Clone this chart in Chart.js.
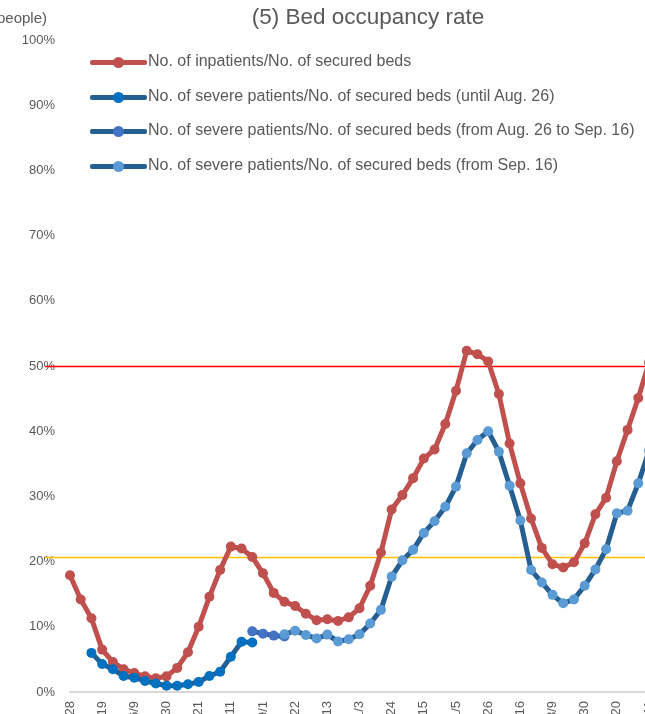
<!DOCTYPE html>
<html lang="en">
<head>
    <meta charset="UTF-8">
    <title>(5) Bed occupancy rate</title>
    <script src="https://cdn.jsdelivr.net/npm/chart.js"></script>
    <style>
        body { margin: 0; background: #fff; font-family: "Liberation Sans", Arial, sans-serif; }
        #wrap { position: relative; width: 645px; height: 714px; overflow: hidden; }
        #bedChart { position: absolute; left: 0; top: 0; }
        .title { position: absolute; top: 4px; left: 0; width: 736px; text-align: center; font-size: 22.5px; color: #595959; }
        .unit { position: absolute; top: 9px; right: 598px; font-size: 15px; color: #595959; white-space: nowrap; }
        .legend { position: absolute; left: 90px; top: 51px; font-size: 16px; color: #595959; }
        .legend .row { position: relative; height: 34.5px; line-height: 20px; white-space: nowrap; }
        .legend .sw { position: absolute; left: 0; top: 9px; width: 57px; height: 5px; border-radius: 2px; }
        .legend .dot { position: absolute; left: 23px; top: -3px; width: 11px; height: 11px; border-radius: 50%; }
        .legend .txt { position: absolute; left: 58px; top: 0; }
    </style>
</head>
<body>
<div id="wrap">
    <canvas id="bedChart" width="700" height="760"></canvas>
    <div class="unit">(people)</div>
    <div class="title">(5) Bed occupancy rate</div>
    <div class="legend" id="legend"></div>
</div>
<script>
    // weekly dates (2020/4/28 - 2021/5/11)
    const dates = [
        '4/28', '5/5', '5/12', '5/19', '5/26', '6/2', '6/9', '6/16', '6/23', '6/30',
        '7/7', '7/14', '7/21', '7/28', '8/4', '8/11', '8/18', '8/25', '9/1', '9/8',
        '9/15', '9/22', '9/29', '10/6', '10/13', '10/20', '10/27', '11/3', '11/10', '11/17',
        '11/24', '12/1', '12/8', '12/15', '12/22', '12/29', '1/5', '1/12', '1/19', '1/26',
        '2/2', '2/9', '2/16', '2/23', '3/2', '3/9', '3/16', '3/23', '3/30', '4/6',
        '4/13', '4/20', '4/27', '5/4', '5/11'
    ];

    // inpatients / secured beds (%)
    const inpatientRate = [
        17.9, 14.2, 11.3, 6.5, 4.6, 3.5, 2.9, 2.4, 2.1, 2.4,
        3.7, 6.1, 10.0, 14.6, 18.7, 22.3, 22.0, 20.7, 18.2, 15.2,
        13.85, 13.2, 12.0, 11.0, 11.15, 10.9, 11.45, 12.85, 16.3, 21.4,
        28.0, 30.2, 32.8, 35.8, 37.2, 41.1, 46.2, 52.35, 51.8, 50.7,
        45.7, 38.1, 32.0, 26.6, 22.1, 19.6, 19.1, 19.9, 22.8, 27.25,
        29.8, 35.4, 40.2, 45.1, 50.5
    ];

    // severe patients / secured beds (%), three definitions
    const severeUntilStart = 2;
    const severeUntil = [6.0, 4.3, 3.5, 2.45, 2.2, 1.7, 1.3, 0.97, 0.97, 1.2, 1.55, 2.45, 3.1, 5.4, 7.7, 7.6];
    const severeMidStart = 17;
    const severeMid = [9.3, 8.95, 8.65, 8.5];
    const severeFromStart = 20;
    const severeFrom = [
        8.85, 9.4, 8.75, 8.2, 8.8, 7.75, 8.1, 8.85, 10.5, 12.6,
        17.7, 20.2, 21.8, 24.4, 26.2, 28.4, 31.5, 36.6, 38.65, 40.0,
        36.85, 31.65, 26.3, 18.7, 16.8, 14.9, 13.6, 14.2, 16.3, 18.8,
        21.9, 27.4, 27.8, 32.0, 37.0
    ];

    const yTicks = [0, 10, 20, 30, 40, 50, 60, 70, 80, 90, 100];
    const refLevels = [50, 20.7];
    const refColors = ['#FF0000', '#FFC000'];

    function place(start, vals) {
        return dates.map((d, i) => (i >= start && i < start + vals.length) ? vals[i - start] : null);
    }

    const lineBlue = '#255E91';
    const series = [
        { label: 'No. of inpatients/No. of secured beds', data: inpatientRate, line: '#C0504D', dot: '#C0504D', order: 3 },
        { label: 'No. of severe patients/No. of secured beds (until Aug. 26)', data: place(severeUntilStart, severeUntil), line: lineBlue, dot: '#0070C0', order: 1 },
        { label: 'No. of severe patients/No. of secured beds (from Aug. 26 to Sep. 16)', data: place(severeMidStart, severeMid), line: lineBlue, dot: '#4472C4', order: 2 },
        { label: 'No. of severe patients/No. of secured beds (from Sep. 16)', data: place(severeFromStart, severeFrom), line: lineBlue, dot: '#5B9BD5', order: 0 }
    ];

    // legend in html
    const legendEl = document.getElementById('legend');
    series.forEach(s => {
        const row = document.createElement('div');
        row.className = 'row';
        row.innerHTML = '<span class="sw" style="background:' + s.line + '"><span class="dot" style="background:' + s.dot + '"></span></span>' +
            '<span class="txt">' + s.label + '</span>';
        legendEl.appendChild(row);
    });

    // red / yellow reference lines
    const refLines = {
        id: 'refLines',
        beforeDatasetsDraw(chart) {
            const ctx = chart.ctx;
            const y = chart.scales.y;
            ctx.save();
            refLevels.forEach((v, k) => {
                const py = Math.round(y.getPixelForValue(v)) + 0.5;
                ctx.strokeStyle = refColors[k];
                ctx.lineWidth = 1.5;
                ctx.beginPath();
                ctx.moveTo(45, py);
                ctx.lineTo(chart.width, py);
                ctx.stroke();
            });
            ctx.restore();
        }
    };

    const ctx = document.getElementById('bedChart').getContext('2d');
    const bedChart = new Chart(ctx, {
        type: 'line',
        data: {
            labels: dates,
            datasets: series.map(s => ({
                label: s.label,
                data: s.data,
                borderColor: s.line,
                backgroundColor: s.dot,
                pointBackgroundColor: s.dot,
                pointBorderWidth: 0,
                pointRadius: 5,
                borderWidth: 5,
                tension: 0,
                fill: false,
                spanGaps: false,
                order: s.order
            }))
        },
        options: {
            responsive: false,
            animation: false,
            layout: { padding: { left: 0, top: 40, right: 51, bottom: 0 } },
            plugins: {
                legend: { display: false },
                tooltip: { enabled: false }
            },
            scales: {
                x: {
                    offset: false,
                    grid: { display: false, drawTicks: false },
                    border: { display: true, color: '#D9D9D9', width: 2 },
                    ticks: {
                        autoSkip: false,
                        minRotation: 90,
                        maxRotation: 90,
                        padding: 9,
                        color: '#595959',
                        font: { family: 'Liberation Sans', size: 13 },
                        callback: (v, i) => i % 3 === 0 ? dates[i] : ''
                    },
                    afterFit: s => { s.height = 68; }
                },
                y: {
                    min: 0,
                    max: 100,
                    grid: { display: false, drawTicks: false },
                    border: { display: false },
                    afterBuildTicks: s => { s.ticks = yTicks.map(v => ({ value: v })); },
                    ticks: {
                        padding: 15,
                        color: '#595959',
                        font: { family: 'Liberation Sans', size: 13 },
                        callback: v => v + '%'
                    },
                    afterFit: s => { s.width = 70; }
                }
            }
        },
        plugins: [refLines]
    });
</script>
</body>
</html>
